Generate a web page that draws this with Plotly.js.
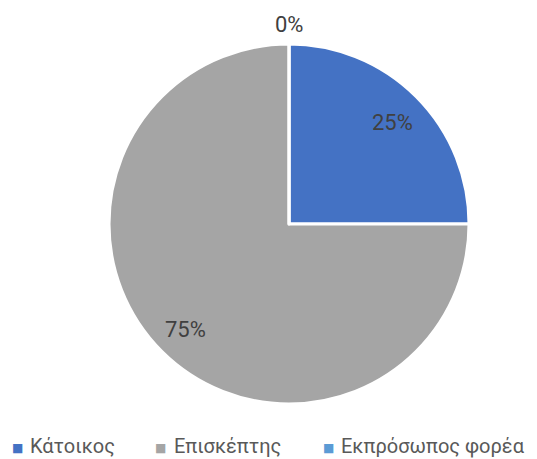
<!DOCTYPE html>
<html><head><meta charset="utf-8">
<script src="https://cdn.plot.ly/plotly-3.0.1.min.js"></script>
<style>html,body{margin:0;padding:0;background:#fff}#chart{width:537px;height:459px}</style>
</head><body><div id="chart"></div>
<script>
const categories = ['Κάτοικος', 'Επισκέπτης', 'Εκπρόσωπος φορέα'];
const values = [25, 75, 0];
const percentLabels = ['25%', '75%', '0%'];
const colors = ['#4472C4', '#A5A5A5', '#5B9BD5'];

const W = 537, H = 459;
const cx = 289, cy = 224, R = 180;
const domX = [(cx - R) / W, (cx + R) / W];
const domY = [1 - (cy + R) / H, 1 - (cy - R) / H];

// legend layout (pixel positions of legend entries)
const legendSquareX = [17, 160, 328];
const legendTextX = [29, 173, 340];
const legendY = 446;

const total = values.reduce((a, b) => a + b, 0);
let cum = 0;
const annotations = values.map((v, i) => {
  const mid = (cum + v / 2) / total;
  cum += v;
  const ang = mid * 2 * Math.PI;
  const rf = v === 0 ? 1.12 : 0.81;
  const px = cx + Math.sin(ang) * R * rf;
  const py = cy - Math.cos(ang) * R * rf + 2;
  return {
    x: px / W, y: 1 - py / H, xref: 'paper', yref: 'paper',
    text: percentLabels[i], showarrow: false,
    font: {family: 'Roboto, sans-serif', size: 22, color: '#404040'},
    xanchor: 'center', yanchor: 'middle'
  };
});

categories.forEach((c, i) => {
  annotations.push({
    x: legendSquareX[i] / W, y: 1 - (legendY + 2) / H, xref: 'paper', yref: 'paper',
    text: '■', showarrow: false, borderpad: 0,
    font: {family: 'DejaVu Sans, sans-serif', size: 12, color: colors[i]},
    xanchor: 'center', yanchor: 'middle'
  });
  annotations.push({
    x: legendTextX[i] / W, y: 1 - legendY / H, xref: 'paper', yref: 'paper',
    text: c, showarrow: false, borderpad: 0,
    font: {family: 'Roboto, sans-serif', size: 20, color: '#595959'},
    xanchor: 'left', yanchor: 'middle'
  });
});

const trace = {
  type: 'pie',
  labels: categories,
  values: values,
  sort: false,
  direction: 'clockwise',
  rotation: 0,
  textinfo: 'none',
  hoverinfo: 'label+percent',
  marker: {colors: colors, line: {color: '#FFFFFF', width: 3}},
  domain: {x: domX, y: domY}
};

const layout = {
  width: W, height: H,
  margin: {l: 0, r: 0, t: 0, b: 0},
  paper_bgcolor: '#FFFFFF',
  showlegend: false,
  annotations: annotations
};

Plotly.newPlot('chart', [trace], layout, {displayModeBar: false, staticPlot: true});
</script></body></html>
